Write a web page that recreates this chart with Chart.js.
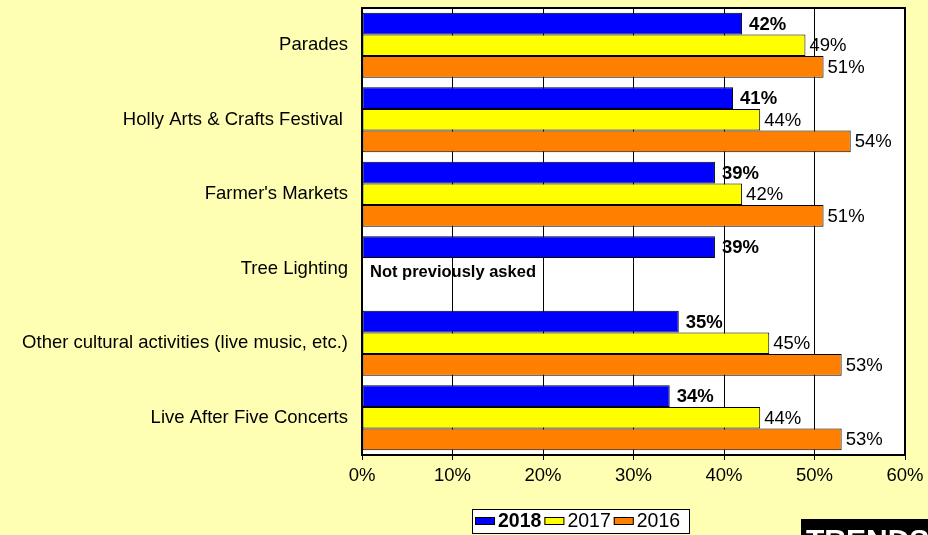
<!DOCTYPE html>
<html>
<head>
<meta charset="utf-8">
<script src="https://cdn.jsdelivr.net/npm/chart.js@4/dist/chart.umd.min.js"></script>
<style>
  body { margin: 0; background: #FFFFB4; }
  canvas { display: block; }
</style>
</head>
<body>
<canvas id="events" width="928" height="535"></canvas>
<script>
// survey data
const categories = [
  'Parades',
  'Holly Arts & Crafts Festival ',
  "Farmer's Markets",
  'Tree Lighting',
  'Other cultural activities (live music, etc.)',
  'Live After Five Concerts'
];
const years = ['2018', '2017', '2016'];
const pct2018 = [42, 41, 39, 39, 35, 34];
const pct2017 = [49, 44, 42, null, 45, 44];
const pct2016 = [51, 54, 51, null, 53, 53];
const xTicks = [0, 10, 20, 30, 40, 50, 60];
const noDataNote = 'Not previously asked';

const FONT = "'Liberation Sans', Arial, sans-serif";
const barColors = ['#0000FF', '#FFFF00', '#FF8000'];

// white plot area + black frame
const plotBox = {
  id: 'plotBox',
  beforeDraw(chart) {
    const a = chart.chartArea, ctx = chart.ctx;
    ctx.save();
    ctx.fillStyle = '#FFFFFF';
    ctx.fillRect(a.left, a.top, a.right - a.left, a.bottom - a.top);
    ctx.restore();
  },
  afterDatasetsDraw(chart) {
    const a = chart.chartArea, ctx = chart.ctx;
    ctx.save();
    ctx.strokeStyle = '#000';
    ctx.lineWidth = 2;
    ctx.strokeRect(a.left, a.top, a.right - a.left, a.bottom - a.top);
    ctx.restore();
  }
};

// value labels to the right of each bar
const valueLabels = {
  id: 'valueLabels',
  afterDatasetsDraw(chart) {
    const ctx = chart.ctx;
    ctx.save();
    ctx.fillStyle = '#000';
    ctx.textBaseline = 'middle';
    chart.data.datasets.forEach((ds, di) => {
      const meta = chart.getDatasetMeta(di);
      ctx.font = (di === 0 ? 'bold ' : '') + '18.5px ' + FONT;
      meta.data.forEach((bar, i) => {
        const v = ds.data[i];
        if (v === null) return;
        ctx.fillText(v + '%', bar.x + (di === 0 ? 7 : 4), bar.y + 1);
      });
    });
    // note for the row without earlier years
    const idx = pct2017.indexOf(null);
    const bar = chart.getDatasetMeta(1).data[idx];
    ctx.font = 'bold 16.5px ' + FONT;
    ctx.fillText(noDataNote, chart.scales.x.getPixelForValue(0) + 8, bar.y + 4);
    ctx.restore();
  }
};

// boxed legend under the axis, plus the logo corner
const footer = {
  id: 'footer',
  afterDraw(chart) {
    const ctx = chart.ctx;
    ctx.save();
    ctx.fillStyle = '#FFFFFF';
    ctx.fillRect(472, 509, 218, 25);
    ctx.strokeStyle = '#000';
    ctx.lineWidth = 1;
    ctx.strokeRect(472.5, 509.5, 217, 24);
    let x = 475;
    years.forEach((y, i) => {
      ctx.fillStyle = barColors[i];
      ctx.fillRect(x, 517, 20, 8);
      ctx.strokeStyle = '#000';
      ctx.strokeRect(x + 0.5, 517.5, 19, 7);
      ctx.fillStyle = '#000';
      ctx.font = (i === 0 ? 'bold ' : '') + '19.5px ' + FONT;
      ctx.textBaseline = 'middle';
      ctx.fillText(y, x + 23, 522);
      x += 23 + ctx.measureText(y).width + 3;
    });
    ctx.fillStyle = '#000';
    ctx.fillRect(801, 519, 127, 16);
    ctx.fillStyle = '#FFFFFF';
    ctx.font = 'bold 30px ' + FONT;
    ctx.textBaseline = 'alphabetic';
    ctx.fillText('TRENDS', 806, 550);
    ctx.restore();
  }
};

new Chart(document.getElementById('events').getContext('2d'), {
  type: 'bar',
  data: {
    labels: categories,
    datasets: years.map((y, i) => ({
      label: y,
      data: [pct2018, pct2017, pct2016][i],
      backgroundColor: barColors[i],
      borderColor: '#000',
      borderWidth: 1,
      borderSkipped: false,
      categoryPercentage: 0.87,
      barPercentage: 1
    }))
  },
  options: {
    indexAxis: 'y',
    responsive: false,
    animation: false,
    layout: { padding: { top: 8, right: 23, left: 0, bottom: 0 } },
    plugins: { legend: { display: false }, tooltip: { enabled: false } },
    scales: {
      x: {
        min: 0,
        max: 60,
        afterBuildTicks(scale) { scale.ticks = xTicks.map(v => ({ value: v })); },
        afterFit(scale) {
          scale.height = 80;
          scale.paddingLeft = 0;
          scale.paddingRight = 0;
        },
        grid: {
          color: '#000',
          lineWidth: 1,
          borderDash: [2, 3],
          tickLength: 5,
          tickColor: '#000',
          tickBorderDash: [],
          drawOnChartArea: true
        },
        border: { display: true, color: '#000', width: 2 },
        ticks: {
          color: '#000',
          padding: 5,
          font: { family: FONT, size: 18.5 },
          callback: v => v + '%'
        }
      },
      y: {
        afterFit(scale) {
          scale.width = 362;
          scale.paddingTop = 0;
          scale.paddingBottom = 0;
        },
        grid: { display: false, drawTicks: false },
        border: { display: true, color: '#000', width: 2 },
        ticks: {
          color: '#000',
          padding: 14,
          font: { family: FONT, size: 18.5 }
        }
      }
    }
  },
  plugins: [plotBox, valueLabels, footer]
});
</script>
</body>
</html>
